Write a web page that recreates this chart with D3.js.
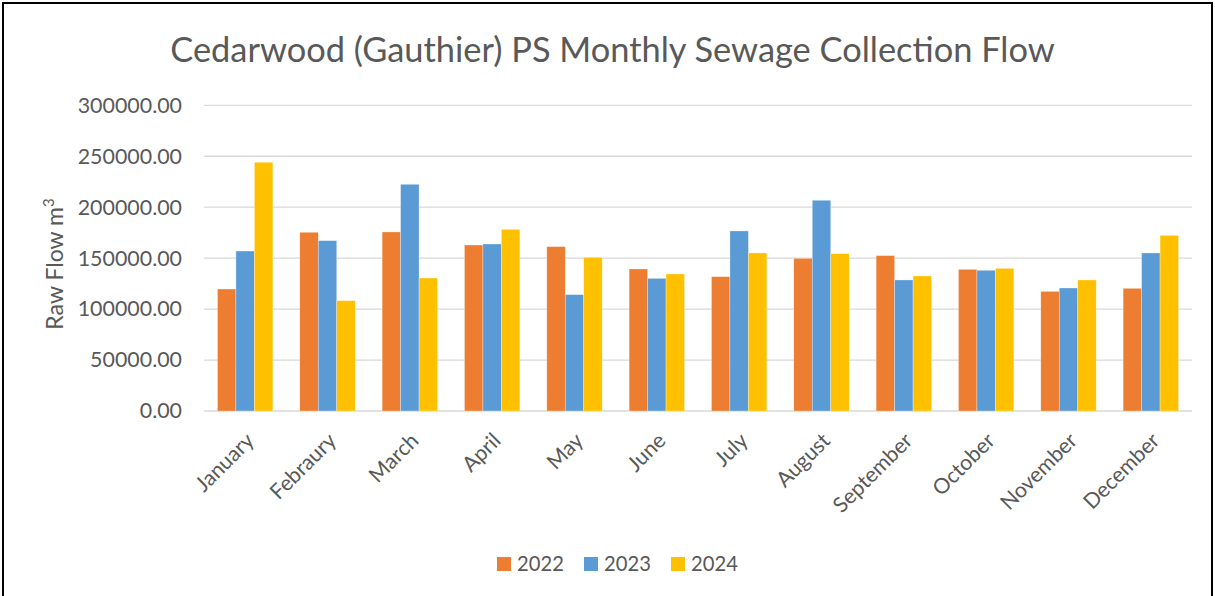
<!DOCTYPE html>
<html><head><meta charset="utf-8">
<script src="https://cdn.jsdelivr.net/npm/d3@7"></script>
<style>body{margin:0;background:#fff}svg{display:block}</style>
</head><body>
<script>
const months = ["January","Febraury","March","April","May","June","July","August","September","October","November","December"];
const seriesNames = ["2022","2023","2024"];
const values2022 = [119700,175400,175700,162900,161300,139400,131800,149800,152500,139000,117400,120400];
const values2023 = [157000,167200,222500,163900,114200,130200,176700,206800,128600,138100,120700,155100];
const values2024 = [244100,108300,130500,178300,150800,134500,155100,154400,132500,140000,128600,172400];
const yTicks = [0,50000,100000,150000,200000,250000,300000];
const colors = ["#ED7D31","#5B9BD5","#FFC000"];

(function(){
const W=1215,H=596;
const svg=d3.select("body").append("svg").attr("width",W).attr("height",H);
svg.append("rect").attr("x",0).attr("y",0).attr("width",W).attr("height",H).attr("fill","#fff");
svg.append("rect").attr("x",3).attr("y",3).attr("width",1209).attr("height",620).attr("fill","none").attr("stroke","#000").attr("stroke-width",2);

const font="Lato, 'Open Sans', sans-serif";
const pLeft=204,pRight=1192,pTop=105.3,pBottom=411;
const x=d3.scaleBand().domain(months).range([pLeft,pRight]).paddingInner(0.327).paddingOuter(0.1635);
const xs=d3.scaleBand().domain(seriesNames).range([0,x.bandwidth()]);
const y=d3.scaleLinear().domain([0,300000]).range([pBottom,pTop]);

svg.append("g").selectAll("line").data(yTicks).join("line")
 .attr("x1",pLeft).attr("x2",pRight).attr("y1",d=>y(d)).attr("y2",d=>y(d))
 .attr("stroke","#d9d9d9").attr("stroke-width",1.3);

const yAxis=svg.append("g").attr("transform",`translate(${pLeft},0)`)
 .call(d3.axisLeft(y).tickValues(yTicks).tickSize(0).tickPadding(22).tickFormat(d=>d3.format(".2f")(d)));
yAxis.select(".domain").remove();
yAxis.selectAll("text").attr("font-family",font).attr("font-size",21.4).attr("fill","#595959");

const all=[values2022,values2023,values2024];
const data=[];
months.forEach((m,i)=>seriesNames.forEach((s,j)=>data.push({m,s,v:all[j][i],c:colors[j]})));
svg.append("g").selectAll("rect").data(data).join("rect")
 .attr("x",d=>x(d.m)+xs(d.s)).attr("width",xs.bandwidth())
 .attr("y",d=>y(d.v)).attr("height",d=>y(0)-y(d.v))
 .attr("fill",d=>d.c).attr("stroke","#fff").attr("stroke-opacity",0.5).attr("stroke-width",0.6);

const xAxis=svg.append("g").attr("transform",`translate(0,${pBottom})`)
 .call(d3.axisBottom(x).tickSize(0).tickPadding(0));
xAxis.select(".domain").remove();
xAxis.selectAll("text").attr("font-family",font).attr("font-size",21.3).attr("fill","#595959")
 .attr("text-anchor","end").attr("dy",0).attr("y",0)
 .attr("transform","translate(10,31) rotate(-45)");

svg.append("text").attr("x",612.5).attr("y",62).attr("text-anchor","middle")
 .attr("font-family",font).attr("font-size",34.4).attr("fill","#595959")
 .text("Cedarwood (Gauthier) PS Monthly Sewage Collection Flow");

const yt=svg.append("text").attr("transform","translate(63,264) rotate(-90)").attr("text-anchor","middle")
 .attr("font-family",font).attr("font-size",23).attr("fill","#595959");
yt.append("tspan").text("Raw Flow m");
yt.append("tspan").attr("font-size",15).attr("dy",-9).text("3");

const legX=[497,584,671];
const lg=svg.append("g").selectAll("g").data(seriesNames).join("g")
 .attr("transform",(d,i)=>`translate(${legX[i]},557)`);
lg.append("rect").attr("width",14).attr("height",14).attr("fill",(d,i)=>colors[i]);
lg.append("text").attr("x",20).attr("y",14).attr("font-family",font).attr("font-size",20.2).attr("fill","#595959").text(d=>d);
})();
</script>
</body></html>
